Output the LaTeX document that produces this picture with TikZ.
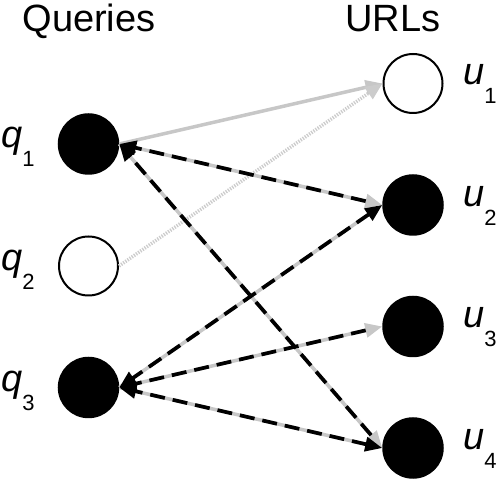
\documentclass[tikz,border=0pt]{standalone}
\usepackage{fontspec}
\setmainfont{Liberation Sans}
\usetikzlibrary{arrows.meta,positioning}
\newcommand{\sublbl}[2]{\textit{#1}\raisebox{-19pt}{\fontsize{22}{22}\selectfont #2}}
\tikzstyle{clicked} = [circle, fill=black, draw=black, line width=1.5pt, minimum size=60pt, inner sep=0pt]
\tikzstyle{unclicked} = [circle, fill=white, draw=black, line width=2pt, minimum size=59pt, inner sep=0pt]
\tikzstyle{heading} = [anchor=base, inner sep=0pt, font=\fontsize{38}{40}\selectfont]
\tikzstyle{sublabel} = [anchor=base west, inner sep=0pt, font=\fontsize{38}{40}\selectfont]
\tikzstyle{click} = [draw=black!22, line width=3.5pt, ->]
\tikzstyle{skip} = [draw=black!20, line width=3.5pt, dash pattern=on 1.3pt off 1.3pt, ->]
\tikzstyle{back} = [draw=black, line width=3.7pt, dash pattern=on 15pt off 8pt, ->]

\begin{document}
\begin{tikzpicture}[x=1pt, y=-1pt, >={Triangle[length=17pt,width=14pt]}]
	\useasboundingbox (0,0) rectangle (499,481);
	\node[heading] (queries) at (89,32) {Queries};
	\node[heading] (urls) at (393,32) {URLs};
	% queries
	\node[clicked] (q1) at (88.5,144) {};
	\node[unclicked] (q2) at (88.5,266) {};
	\node[clicked] (q3) at (88.5,387.5) {};
	% urls
	\node[unclicked] (u1) at (413,83.5) {};
	\node[clicked] (u2) at (413,205) {};
	\node[clicked] (u3) at (413,326.5) {};
	\node[clicked] (u4) at (413,448) {};
	% labels
	\node[sublabel] (lq1) at (1,148) {\sublbl{q}{1}};
	\node[sublabel] (lq2) at (1,271) {\sublbl{q}{2}};
	\node[sublabel] (lq3) at (1,392) {\sublbl{q}{3}};
	\node[sublabel] (lu1) at (463,85) {\sublbl{u}{1}};
	\node[sublabel] (lu2) at (463,207) {\sublbl{u}{2}};
	\node[sublabel] (lu3) at (463,328) {\sublbl{u}{3}};
	\node[sublabel] (lu4) at (463,450) {\sublbl{u}{4}};
	% clicks
	\draw[click] (q1.east) -- (u1.west);
	\draw[skip] (q2.east) -- (u1.west);
	\draw[click] (q1.east) -- (u2.west);
	\draw[click] (q1.east) -- (u4.west);
	\draw[click] (q3.east) -- (u2.west);
	\draw[click] (q3.east) -- (u3.west);
	\draw[click] (q3.east) -- (u4.west);
	% back edges
	\draw[back, shorten <=17pt] (u2.west) -- (q1.east);
	\draw[back, shorten <=17pt] (u4.west) -- (q1.east);
	\draw[back, shorten <=17pt] (u3.west) -- (q3.east);
	\draw[back, <->] (u2.west) -- (q3.east);
	\draw[back, <->] (u4.west) -- (q3.east);
\end{tikzpicture}
\end{document}
